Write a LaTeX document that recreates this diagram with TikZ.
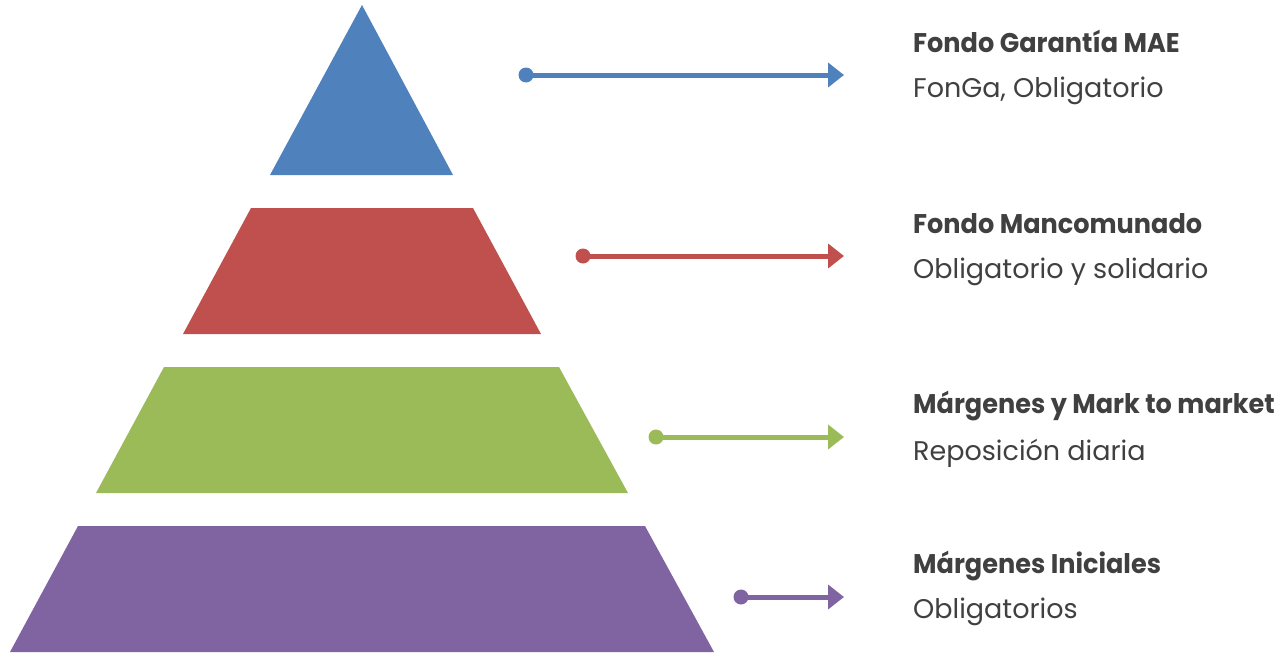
\documentclass[tikz,border=0pt]{standalone}
\usepackage{fontspec}
\setmainfont{Poppins}
\usetikzlibrary{arrows.meta}
\definecolor{cblue}{HTML}{4F81BD}
\definecolor{cred}{HTML}{C0504D}
\definecolor{cgreen}{HTML}{9BBB59}
\definecolor{cpurple}{HTML}{8064A2}
\definecolor{ctext}{HTML}{404040}
\newcommand{\narrowtxt}[1]{\scalebox{0.947}[1]{#1}}
\tikzset{
  conn/.style={line width=5pt,-{Triangle[length=16pt,width=24pt]},shorten >=-1pt},
  dotmark/.style={circle,inner sep=0pt,minimum size=15pt,fill=#1},
  titletext/.style={anchor=base west,inner sep=0pt,text=ctext,font=\fontsize{27}{30}\selectfont\bfseries},
  subtext/.style={anchor=base west,inner sep=0pt,text=ctext,font=\fontsize{27}{30}\selectfont},
}
\begin{document}
\begin{tikzpicture}[x=1pt,y=-1pt]
\useasboundingbox (0,0) rectangle (1287,653);
% pyramid
\fill[cblue] (362,5) -- (453,175) -- (270,175) -- cycle;
\fill[cred] (251,208) -- (473,208) -- (541,334) -- (183,334) -- cycle;
\fill[cgreen] (164,367) -- (559,367) -- (628,493) -- (96,493) -- cycle;
\fill[cpurple] (78,526) -- (645,526) -- (714,652) -- (10,652) -- cycle;
% arrows
\node[dotmark=cblue] (d1) at (526,75) {};
\node[dotmark=cred] (d2) at (583,256) {};
\node[dotmark=cgreen] (d3) at (656,437) {};
\node[dotmark=cpurple] (d4) at (741,597) {};
\coordinate (e1) at (843,75);
\coordinate (e2) at (843,256);
\coordinate (e3) at (843,437);
\coordinate (e4) at (843,597);
\draw[conn,cblue] (d1.center) -- (e1);
\draw[conn,cred] (d2.center) -- (e2);
\draw[conn,cgreen] (d3.center) -- (e3);
\draw[conn,cpurple] (d4.center) -- (e4);
% texts
\node[titletext] (t1) at (913,52) {\narrowtxt{Fondo Garantía MAE}};
\node[subtext] (s1) at (913,97) {FonGa, Obligatorio};
\node[titletext] (t2) at (913,233) {\narrowtxt{Fondo Mancomunado}};
\node[subtext] (s2) at (913,278) {Obligatorio y solidario};
\node[titletext] (t3) at (913,413) {\narrowtxt{Márgenes y Mark to market}};
\node[subtext] (s3) at (913,460) {Reposición diaria};
\node[titletext] (t4) at (913,573) {\narrowtxt{Márgenes Iniciales}};
\node[subtext] (s4) at (913,618) {Obligatorios};
\end{tikzpicture}
\end{document}
